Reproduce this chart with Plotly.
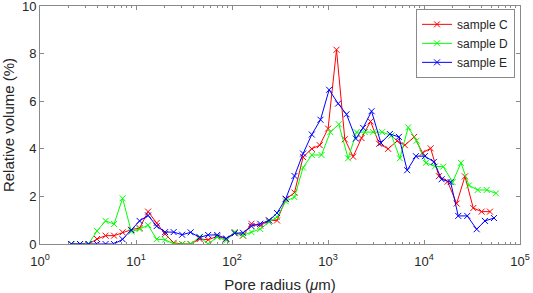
import plotly.graph_objects as go

# ---- data (pore radius in µm, relative volume in %) ----
radius_common = [2.115, 2.613, 3.204, 3.930, 4.820, 5.909, 7.250, 8.933, 10.90, 13.37,
                 16.40, 20.11, 24.67, 30.25, 37.10, 46.04, 56.46, 70.11, 87.01, 106.7,
                 130.2, 159.4, 196.9, 243.1, 294.5, 363.1, 447.4, 550.1, 677.9]

radius_C_tail = [821, 1002, 1226, 1497, 1827, 2235, 2775, 3411, 4233, 5254, 6321,
                 7904, 9670, 11720, 14300, 17630, 21880, 26700, 32600, 39870, 48660]
radius_D_tail = [855.5, 1057, 1296, 1620, 1983, 2420, 2953, 3665, 4595, 5609, 6845,
                 8374, 10470, 12990, 15860, 19880, 24260, 29390, 36230, 44970, 56220]
radius_E_tail = [835.3, 1027, 1275, 1559, 1950, 2323, 2842, 3553, 4411, 5474, 6679,
                 8234, 10220, 12685, 15259, 18940, 22730, 28220, 35370, 43150, 53570]

sample_C = [0, 0, 0, 0.21, 0.35, 0.35, 0.49, 0.60, 0.67, 1.36,
            0.88, 0.42, 0.05, 0, 0, 0.21, 0.18, 0.32, 0.21, 0.49,
            0.35, 0.85, 0.77, 0.99, 0.99, 1.88, 2.16, 3.65, 4.00,
            4.15, 4.85, 8.16, 4.40, 3.67, 4.45, 5.15, 4.21, 4.00, 4.33,
            4.15, 4.50, 3.83, 4.02, 2.85, 2.62, 1.70, 2.84, 1.51, 1.36, 1.36]
sample_D = [0, 0, 0, 0.55, 0.97, 0.84, 1.92, 0.52, 0.63, 0.79,
            0.20, 0.18, 0, 0, 0, 0.30, 0, 0.29, 0.15, 0.50,
            0.36, 0.50, 0.63, 0.92, 1.13, 1.79, 1.97, 3.21, 3.74,
            3.74, 4.70, 5.03, 3.60, 4.70, 4.70, 4.70, 4.70, 4.56, 3.60,
            4.90, 4.34, 3.41, 3.26, 3.25, 2.60, 3.41, 2.46, 2.27, 2.27, 2.13]
sample_E = [0, 0, 0, 0, 0, 0, 0.20, 0.58, 0.97, 1.20,
            0.75, 0.50, 0.50, 0.39, 0.49, 0.28, 0.38, 0.38, 0.23, 0.45,
            0.47, 0.75, 0.85, 0.99, 1.30, 1.90, 2.86, 3.80, 4.60,
            5.22, 6.48, 5.90, 5.45, 4.43, 4.88, 5.58, 4.25, 4.62, 4.50,
            3.10, 3.69, 3.69, 3.45, 2.72, 2.60, 1.18, 1.18, 0.62, 0.97, 1.09]

series_names = ["sample C", "sample D", "sample E"]
series_colors = ["#ff0000", "#00ff00", "#0000ff"]

x_tickvals = [1, 10, 100, 1000, 10000, 100000]
x_ticktext = ["10<sup>0</sup>", "10<sup>1</sup>", "10<sup>2</sup>",
              "10<sup>3</sup>", "10<sup>4</sup>", "10<sup>5</sup>"]
y_tickvals = [0, 2, 4, 6, 8, 10]

radii = [radius_common + radius_C_tail,
         radius_common + radius_D_tail,
         radius_common + radius_E_tail]
values = [sample_C, sample_D, sample_E]

fig = go.Figure()
for name, col, xs, ys in zip(series_names, series_colors, radii, values):
    fig.add_trace(go.Scatter(
        x=xs, y=ys, mode="lines+markers", name=name,
        line=dict(color=col, width=1),
        marker=dict(symbol="x-thin", size=6, line=dict(color=col, width=1), color=col),
    ))

minor_vals = [m * 10 ** k for k in range(0, 5) for m in range(2, 10)]

axis_color = "#8a8a8a"
text_color = "#262626"
font_family = "Liberation Sans, Arial, sans-serif"

fig.update_layout(
    width=533, height=293,
    margin=dict(l=40, r=13, t=6, b=49, autoexpand=False),
    paper_bgcolor="white", plot_bgcolor="white",
    font=dict(family=font_family, size=12, color=text_color),
    showlegend=True,
    legend=dict(
        x=0.9896, y=0.988, xanchor="right", yanchor="top",
        bgcolor="white", bordercolor=axis_color, borderwidth=1,
        font=dict(size=12, color=text_color),
        tracegroupgap=0, itemwidth=30,
    ),
    xaxis=dict(
        type="log", range=[0, 5], automargin=False,
        tickmode="array", tickvals=x_tickvals, ticktext=x_ticktext,
        ticks="inside", ticklen=4, tickcolor=axis_color, tickwidth=1,
        minor=dict(tickmode="array", tickvals=minor_vals, ticks="inside",
                   ticklen=2, tickcolor=axis_color, showgrid=False),
        showline=True, linecolor=axis_color, linewidth=1, mirror="ticks",
        showgrid=False, zeroline=False,
        tickfont=dict(size=13, color=text_color),
        ticklabelstandoff=5, ticklabeloverflow="allow",
        title=dict(text="Pore radius (<i>μ</i>m)", font=dict(size=15, color=text_color), standoff=11),
    ),
    yaxis=dict(
        range=[0, 10], automargin=False, tickmode="array", tickvals=y_tickvals,
        ticks="inside", ticklen=4, tickcolor=axis_color, tickwidth=1,
        showline=True, linecolor=axis_color, linewidth=1, mirror="ticks",
        showgrid=False, zeroline=False,
        tickfont=dict(size=13, color=text_color),
        ticklabeloverflow="allow",
        title=dict(text="Relative volume (%)", font=dict(size=15, color=text_color), standoff=8),
    ),
)

fig.write_html("out.html", config={"displayModeBar": False},
               post_script="document.body.style.margin='0';")
